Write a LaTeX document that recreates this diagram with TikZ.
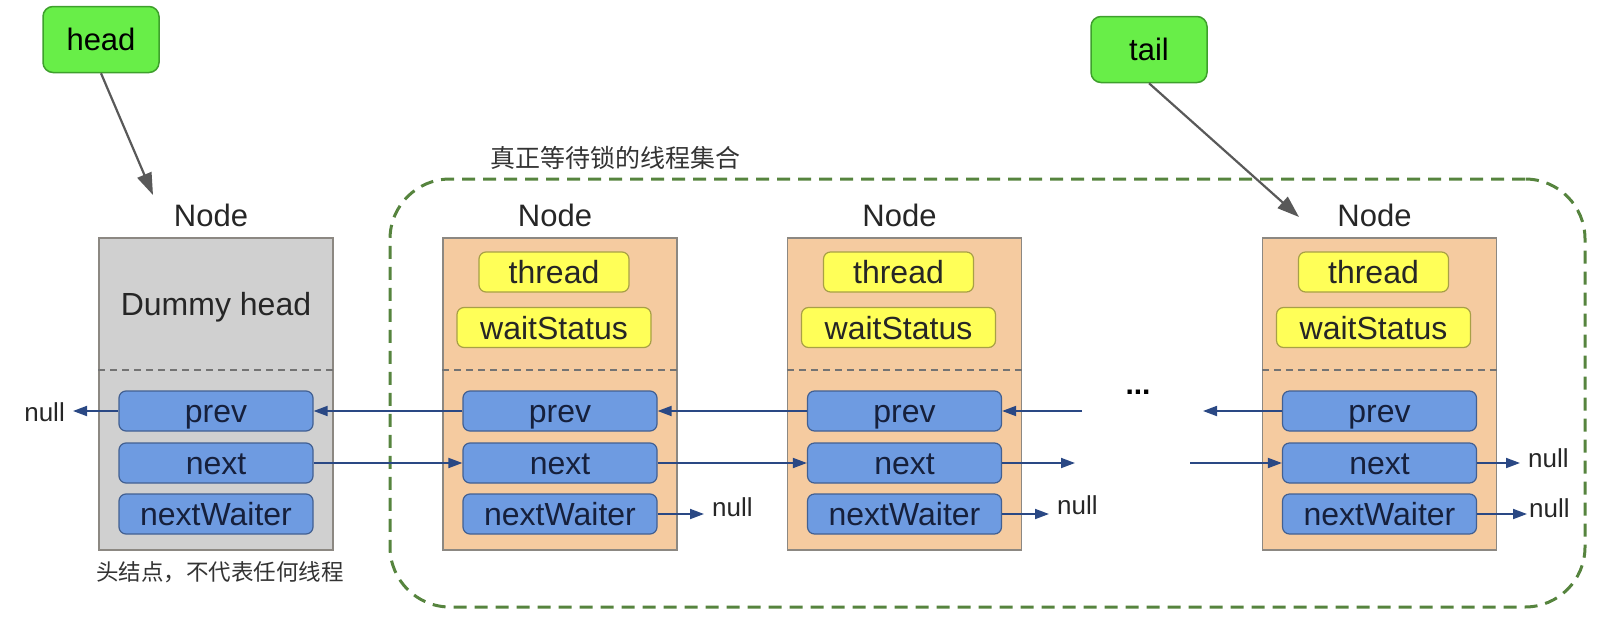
\documentclass[tikz,border=0pt]{standalone}
\usepackage{fontspec}
\setmainfont{Liberation Sans}
\newfontfamily\cjk{Noto Sans CJK SC}
\usetikzlibrary{arrows.meta,calc}
\definecolor{ptrgreen}{RGB}{104,238,72}
\definecolor{ptrline}{RGB}{62,160,44}
\definecolor{dummygray}{RGB}{208,208,208}
\definecolor{boxline}{RGB}{140,136,130}
\definecolor{peach}{RGB}{245,203,160}
\definecolor{fieldyellow}{RGB}{255,255,88}
\definecolor{yellowline}{RGB}{168,160,70}
\definecolor{fieldblue}{RGB}{110,155,225}
\definecolor{blueline}{RGB}{66,96,146}
\definecolor{linkblue}{RGB}{42,72,132}
\definecolor{setgreen}{RGB}{86,132,62}
\tikzset{
         pointer/.style={draw=ptrline,fill=ptrgreen,rounded corners=10pt,line width=1.5pt,
                         minimum width=116pt,minimum height=66pt,font=\fontsize{31}{36}\selectfont},
         qnode/.style={draw=boxline,line width=1.5pt,minimum width=234pt,minimum height=312pt},
         yfield/.style={draw=yellowline,fill=fieldyellow,rounded corners=7pt,line width=1.2pt,inner sep=0pt,
                        text height=27pt,text depth=4pt,
                        minimum height=40pt,font=\fontsize{32}{38}\selectfont,text=black!85},
         bfield/.style={draw=blueline,fill=fieldblue,rounded corners=7pt,line width=1.2pt,inner sep=0pt,
                        text height=27pt,text depth=4pt,
                        minimum width=194pt,minimum height=40pt,font=\fontsize{32}{38}\selectfont,text={rgb,255:red,22;green,32;blue,60}},
         nodelabel/.style={font=\fontsize{31}{36}\selectfont,text=black!85},
         nul/.style={font=\fontsize{26}{30}\selectfont,inner xsep=8pt,inner ysep=0pt,text=black!85},
         sep/.style={draw=black!55,line width=1.5pt,dash pattern=on 7pt off 5pt},
         link/.style={-{Triangle[length=14pt,width=10pt]},draw=linkblue,line width=1.8pt},
         ptrarrow/.style={-{Triangle[length=22pt,width=15pt]},draw=black!65,line width=2.2pt}
        }
\begin{document}
\begin{tikzpicture}[x=1pt,y=-1pt]
\useasboundingbox (0,0) rectangle (1606,624);
\node[draw=setgreen,line width=3pt,dash pattern=on 13pt off 8pt,rounded corners=60pt,
      minimum width=1195pt,minimum height=428pt] (grp) at (987.5,393) {}; % waiting set
\node[text=black!80,font=\cjk\fontsize{25}{30}\selectfont] (grptitle) at (615,158) {真正等待锁的线程集合}; % set label
\node[pointer] (head) at (101,39.5) {head}; % head
\node[pointer] (tail) at (1149,49.5) {tail}; % tail
\coordinate (headend) at (153,195);
\coordinate (tailend) at (1299,217);
\draw[ptrarrow] (head.south) -- (headend); % head pointer
\draw[ptrarrow] (tail.south) -- (tailend); % tail pointer
% dummy head
\node[qnode,fill=dummygray] (b0) at (216,394) {};
\node[nodelabel] (lb0) at ($(b0.north)+(-5,-22)$) {Node};
\node[font=\fontsize{32}{38}\selectfont,text=black!85] (dh) at ($(b0)+(0,-87)$) {Dummy head};
\draw[sep] ($(b0.west)+(0,-24)$) -- ($(b0.east)+(0,-24)$);
\node[bfield] (p0) at ($(b0)+(0,17)$) {prev};
\node[bfield] (x0) at ($(b0)+(0,69)$) {next};
\node[bfield] (w0) at ($(b0)+(0,120)$) {nextWaiter};
\node[text=black!80,font=\cjk\fontsize{22.5}{27}\selectfont] (dhnote) at (220,572) {头结点，不代表任何线程};
% node 1
\node[qnode,fill=peach] (b1) at (560,394) {};
\node[nodelabel] (lb1) at ($(b1.north)+(-5,-22)$) {Node};
\node[yfield,minimum width=150pt] (t1) at ($(b1)+(-6,-122)$) {thread};
\node[yfield,minimum width=194pt] (s1) at ($(b1)+(-6,-66.5)$) {waitStatus};
\draw[sep] ($(b1.west)+(0,-24)$) -- ($(b1.east)+(0,-24)$);
\node[bfield] (p1) at ($(b1)+(0,17)$) {prev};
\node[bfield] (x1) at ($(b1)+(0,69)$) {next};
\node[bfield] (w1) at ($(b1)+(0,120)$) {nextWaiter};
% node 2
\node[qnode,fill=peach] (b2) at (904.5,394) {};
\node[nodelabel] (lb2) at ($(b2.north)+(-5,-22)$) {Node};
\node[yfield,minimum width=150pt] (t2) at ($(b2)+(-6,-122)$) {thread};
\node[yfield,minimum width=194pt] (s2) at ($(b2)+(-6,-66.5)$) {waitStatus};
\draw[sep] ($(b2.west)+(0,-24)$) -- ($(b2.east)+(0,-24)$);
\node[bfield] (p2) at ($(b2)+(0,17)$) {prev};
\node[bfield] (x2) at ($(b2)+(0,69)$) {next};
\node[bfield] (w2) at ($(b2)+(0,120)$) {nextWaiter};
% last node
\node[qnode,fill=peach] (b3) at (1379.5,394) {};
\node[nodelabel] (lb3) at ($(b3.north)+(-5,-22)$) {Node};
\node[yfield,minimum width=150pt] (t3) at ($(b3)+(-6,-122)$) {thread};
\node[yfield,minimum width=194pt] (s3) at ($(b3)+(-6,-66.5)$) {waitStatus};
\draw[sep] ($(b3.west)+(0,-24)$) -- ($(b3.east)+(0,-24)$);
\node[bfield] (p3) at ($(b3)+(0,17)$) {prev};
\node[bfield] (x3) at ($(b3)+(0,69)$) {next};
\node[bfield] (w3) at ($(b3)+(0,120)$) {nextWaiter};
\node[font=\bfseries\fontsize{30}{36}\selectfont] (dots) at (1138,392) {...}; % more nodes
% null ends
\node[nul,anchor=east] (nl0) at (73,412) {null};
\node[nul,anchor=west] (nl1) at (704,507) {null};
\node[nul,anchor=west] (nl2) at (1049,505) {null};
\node[nul,anchor=west] (nl3) at (1520,458) {null};
\node[nul,anchor=west,inner xsep=2pt] (nl4) at (1527,508) {null};
\coordinate (gapa) at (1082,411);
\coordinate (gapb) at (1075,463);
\coordinate (gapc) at (1203,411);
\coordinate (gapd) at (1190,463);
% prev links
\draw[link] (p0.west) -- (p0.west -| nl0.east);
\draw[link] (p1.west) -- (p0.east);
\draw[link] (p2.west) -- (p1.east);
\draw[link] (gapa) -- (p2.east);
\draw[link] (p3.west) -- (gapc);
% next links
\draw[link] (x0.east) -- (x1.west);
\draw[link] (x1.east) -- (x2.west);
\draw[link] (x2.east) -- (gapb);
\draw[link] (gapd) -- (x3.west);
\draw[link] (x3.east) -- (x3.east -| nl3.west);
% nextWaiter links
\draw[link] (w1.east) -- (w1.east -| nl1.west);
\draw[link] (w2.east) -- (w2.east -| nl2.west);
\draw[link] (w3.east) -- (w3.east -| nl4.west);
\end{tikzpicture}
\end{document}
